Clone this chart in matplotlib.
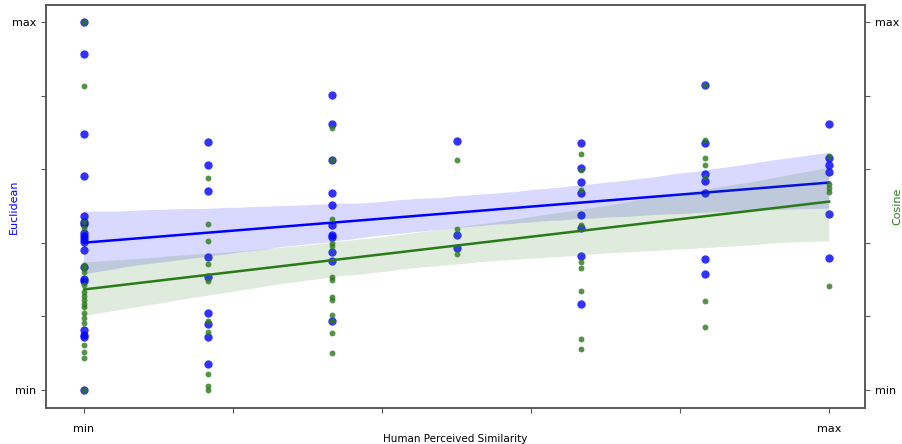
import numpy as np
import pandas as pd
import matplotlib
matplotlib.use("Agg")
import matplotlib.pyplot as plt
import seaborn as sns

# x positions (normalised human similarity levels)
levels = [0, 1/6, 2/6, 3/6, 4/6, 5/6, 1]

euclid = [
    [1.0, 0.913, 0.696, 0.582, 0.473, 0.457, 0.451, 0.427, 0.418, 0.410, 0.402, 0.380, 0.334, 0.302, 0.296, 0.163, 0.149, 0.144, 0.0],
    [0.674, 0.611, 0.541, 0.361, 0.307, 0.209, 0.179, 0.144, 0.071],
    [0.802, 0.723, 0.625, 0.535, 0.503, 0.448, 0.421, 0.416, 0.375, 0.351, 0.188],
    [0.677, 0.421, 0.386],
    [0.671, 0.603, 0.565, 0.535, 0.476, 0.440, 0.364, 0.234],
    [0.829, 0.671, 0.587, 0.568, 0.535, 0.356, 0.315],
    [0.723, 0.630, 0.611, 0.592, 0.478, 0.359],
]
cosine = [
    [1.0, 0.826, 0.457, 0.440, 0.340, 0.332, 0.321, 0.285, 0.266, 0.255, 0.245, 0.234, 0.226, 0.209, 0.196, 0.182, 0.122, 0.103, 0.087, 0.0],
    [0.576, 0.451, 0.405, 0.342, 0.296, 0.188, 0.158, 0.043, 0.011, 0.0],
    [0.712, 0.625, 0.465, 0.399, 0.391, 0.307, 0.299, 0.253, 0.245, 0.204, 0.188, 0.155, 0.101],
    [0.625, 0.438, 0.370],
    [0.641, 0.598, 0.543, 0.448, 0.348, 0.332, 0.269, 0.139, 0.111],
    [0.829, 0.679, 0.630, 0.611, 0.579, 0.242, 0.171],
    [0.636, 0.560, 0.549, 0.538, 0.283],
]
tick_pos = [0, 0.2, 0.4, 0.6, 0.8, 1.0]
tick_labels = ["min", "", "", "", "", "max"]

ex = [levels[i] for i, col in enumerate(euclid) for _ in col]
ey = [v for col in euclid for v in col]
cx = [levels[i] for i, col in enumerate(cosine) for _ in col]
cy = [v for col in cosine for v in col]
df_e = pd.DataFrame({"x": ex, "y": ey})
df_c = pd.DataFrame({"x": cx, "y": cy})

BLUE = "#0000ff"
GREEN = "#2a7a1a"
SPINE = "#555555"

fig = plt.figure(figsize=(9.03, 4.44), dpi=100)
ax = fig.add_axes([46/903, 1-408/444, (865-46)/903, (408-5)/444])
ax2 = ax.twinx()

np.random.seed(0)
sns.regplot(data=df_e, x="x", y="y", ax=ax, color=BLUE, ci=95, seed=1,
            scatter_kws={"s": 36, "alpha": 0.8, "linewidths": 0},
            line_kws={"lw": 1.8})
sns.regplot(data=df_c, x="x", y="y", ax=ax2, color=GREEN, ci=95, seed=2,
            scatter_kws={"s": 18, "alpha": 0.8, "linewidths": 0},
            line_kws={"lw": 1.8})

for a in (ax, ax2):
    a.set_xlim(-0.051, 1.048)
    a.set_ylim(-0.049, 1.046)
    a.set_yticks(tick_pos)
    a.set_yticklabels(tick_labels, fontsize=8)
    for s in a.spines.values():
        s.set_color(SPINE)
        s.set_linewidth(1.1)
    a.tick_params(colors="black", labelsize=8, length=3.5, width=0.8)
    a.tick_params(axis="both", color=SPINE)

ax.set_xticks(tick_pos)
ax.set_xticklabels(tick_labels, fontsize=8)
ax.tick_params(axis="x", pad=8)
ax.set_xlabel("Human Perceived Similarity", fontsize=7.5)
ax.xaxis.set_label_coords(0.5, -0.064)
ax.set_ylabel("Euclidean", color=BLUE, fontsize=8)
ax.yaxis.set_label_coords(-0.033, 0.5)
ax2.set_ylabel("Cosine", color=GREEN, fontsize=8)
ax2.yaxis.set_label_coords(1.034, 0.5)

fig.savefig("out.png", dpi=100)
